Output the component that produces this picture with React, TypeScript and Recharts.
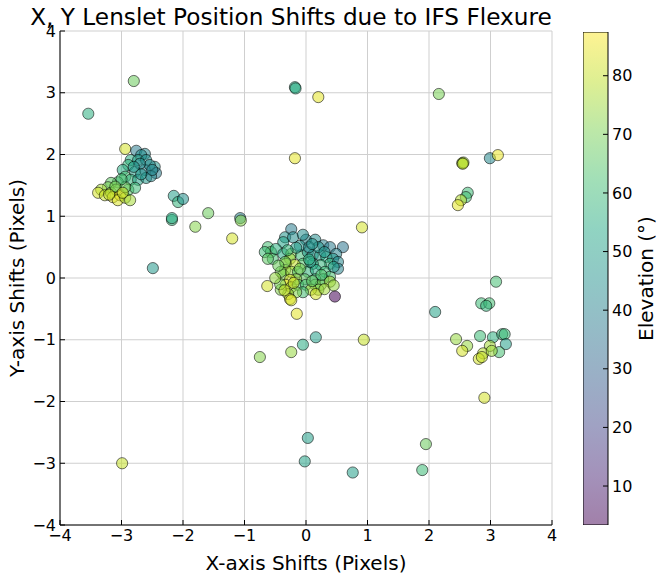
import * as React from "react"
import {
  ScatterChart, Scatter, XAxis, YAxis, CartesianGrid,
  BarChart, Bar,
} from "recharts"

// [x shift, y shift, elevation]
const upperLeftCluster: number[][] = [
  [-2.94, 2.09, 82], [-2.76, 2.06, 38], [-2.62, 2.01, 42], [-2.68, 1.99, 44],
  [-2.85, 1.91, 55], [-2.73, 1.91, 50], [-2.6, 1.91, 45], [-2.46, 1.8, 46],
  [-2.44, 1.7, 38], [-2.62, 1.75, 40], [-2.89, 1.83, 58], [-2.98, 1.75, 55],
  [-2.78, 1.72, 50], [-2.94, 1.64, 62], [-2.85, 1.59, 58], [-2.73, 1.59, 52],
  [-2.6, 1.62, 48], [-3.06, 1.55, 64], [-3.17, 1.54, 66], [-3.22, 1.47, 70],
  [-3.33, 1.43, 76], [-3.38, 1.38, 82], [-3.27, 1.34, 80], [-3.17, 1.38, 74],
  [-3.09, 1.43, 72], [-3.14, 1.31, 84], [-3.02, 1.34, 86], [-3.06, 1.26, 83],
  [-2.94, 1.3, 78], [-2.86, 1.26, 76], [-2.89, 1.43, 65], [-2.78, 1.46, 60],
  [-2.94, 1.47, 68], [-2.54, 1.83, 44], [-2.52, 1.65, 42], [-2.7, 1.85, 44],
  [-2.8, 1.8, 48], [-3.0, 1.6, 62], [-3.1, 1.48, 70], [-2.68, 1.68, 46],
  [-3.2, 1.35, 80], [-2.98, 1.38, 80], [-2.5, 1.75, 42],
]

const centralCluster: number[][] = [
  [-0.24, 0.79, 38], [-0.34, 0.66, 46], [-0.21, 0.66, 44], [-0.37, 0.58, 52],
  [0.0, 0.62, 42], [0.15, 0.62, 44], [0.28, 0.53, 40], [0.39, 0.5, 38],
  [0.6, 0.5, 36], [0.49, 0.39, 40], [-0.62, 0.5, 62], [-0.57, 0.42, 66],
  [-0.67, 0.42, 60], [-0.54, 0.31, 62], [-0.49, 0.47, 56], [-0.62, 0.31, 66],
  [-0.37, 0.39, 54], [-0.24, 0.39, 72], [-0.26, 0.31, 74], [-0.08, 0.37, 60],
  [0.03, 0.42, 48], [0.11, 0.37, 48], [0.23, 0.37, 50], [0.33, 0.34, 54],
  [0.44, 0.31, 48], [0.39, 0.23, 58], [0.52, 0.26, 42], [0.52, 0.15, 40],
  [0.24, 0.21, 58], [0.11, 0.23, 54], [-0.05, 0.23, 64], [-0.18, 0.21, 80],
  [-0.33, 0.23, 78], [-0.34, 0.13, 76], [-0.37, 0.05, 72], [-0.41, 0.1, 70],
  [-0.24, 0.1, 74], [-0.13, 0.1, 64], [0.03, 0.1, 58], [0.16, 0.13, 54],
  [0.31, 0.1, 60], [0.39, 0.02, 62], [0.28, -0.02, 58], [0.15, -0.02, 60],
  [-0.02, -0.02, 66], [-0.16, -0.02, 74], [-0.26, -0.03, 82], [-0.33, -0.11, 84],
  [-0.24, -0.15, 76], [-0.13, -0.11, 64], [0.0, -0.11, 62], [0.15, -0.11, 68],
  [0.24, -0.11, 70], [0.2, -0.19, 72], [0.08, -0.19, 76], [-0.05, -0.23, 62],
  [-0.16, -0.23, 72], [-0.29, -0.26, 76], [-0.26, -0.34, 84], [-0.24, -0.36, 82],
  [-0.41, -0.19, 72], [0.39, -0.06, 76], [0.16, -0.26, 82], [-0.42, -0.1, 70],
  [-0.1, 0.52, 46], [0.07, 0.26, 50], [-0.16, 0.49, 50], [0.2, 0.5, 46],
  [-0.34, 0.26, 68], [-0.45, 0.2, 68], [-0.3, 0.45, 58], [0.05, 0.5, 44],
  [0.3, 0.42, 46], [0.45, 0.18, 50], [-0.1, 0.15, 70], [0.05, 0.3, 56],
  [0.25, 0.05, 64], [-0.2, -0.08, 80], [0.1, -0.05, 66], [-0.35, -0.2, 80],
  [0.3, -0.18, 76], [-0.05, 0.7, 44], [0.1, 0.55, 46], [-0.5, 0.0, 74],
  [0.45, -0.12, 74],
]

const upperRightCluster: number[][] = [
  [2.54, 1.86, 78], [2.56, 1.87, 76], [2.55, 1.85, 79], [2.63, 1.38, 60],
  [2.6, 1.31, 62], [2.52, 1.26, 78], [2.47, 1.18, 84], [2.99, 1.94, 42],
  [3.12, 1.99, 85],
]

const lowerRightCluster: number[][] = [
  [3.09, -0.06, 62], [2.85, -0.41, 60], [2.98, -0.41, 62], [2.93, -0.45, 58],
  [2.44, -0.99, 74], [2.62, -1.1, 74], [2.54, -1.18, 82], [2.83, -0.94, 60],
  [3.04, -0.96, 56], [3.19, -0.91, 58], [3.23, -0.91, 60], [3.25, -1.07, 50],
  [2.99, -1.1, 76], [3.14, -1.2, 62], [2.88, -1.22, 78], [2.81, -1.31, 82],
  [2.86, -1.28, 80], [3.02, -1.18, 75], [2.9, -1.94, 82], [2.1, -0.55, 52],
]

const scattered: number[][] = [
  [-3.54, 2.66, 56], [-2.8, 3.19, 68], [-0.18, 3.09, 55], [-0.17, 3.07, 55],
  [0.2, 2.93, 84], [-0.18, 1.94, 84], [2.16, 2.98, 70], [-2.49, 0.16, 48],
  [-2.15, 1.33, 50], [-2.08, 1.23, 58], [-2.0, 1.28, 45], [-2.18, 0.94, 58],
  [-2.18, 0.97, 55], [-1.8, 0.83, 72], [-1.59, 1.05, 68], [-1.2, 0.64, 82],
  [-1.07, 0.97, 40], [-1.06, 0.93, 72], [-0.75, -1.28, 72], [-0.24, -1.2, 74],
  [-0.05, -1.08, 55], [0.16, -0.96, 50], [-0.63, -0.13, 82], [-0.15, -0.58, 84],
  [0.47, -0.3, 3.5], [0.91, 0.82, 82], [0.94, -1.0, 80], [0.03, -2.59, 50],
  [-0.02, -2.97, 52], [0.76, -3.15, 50], [1.95, -2.69, 68], [1.89, -3.11, 60],
  [-2.99, -3.0, 80],
]

const axisTicks = [-4, -3, -2, -1, 0, 1, 2, 3, 4]
const elevationTicks = [10, 20, 30, 40, 50, 60, 70, 80]
const ELEV_MIN = 3.35
const ELEV_MAX = 87.46
const colorbarData = [{ name: "elevation", range: [ELEV_MIN, ELEV_MAX] }]

const VIRIDIS = ["#440154", "#482475", "#414487", "#355f8d", "#2a788e", "#21918c",
  "#22a884", "#44bf70", "#7ad151", "#bddf26", "#fde725"]

function hexToRgb(h: string) {
  return [1, 3, 5].map((i) => parseInt(h.slice(i, i + 2), 16))
}

function viridis(t: number) {
  const c = Math.max(0, Math.min(1, t)) * (VIRIDIS.length - 1)
  const i = Math.min(Math.floor(c), VIRIDIS.length - 2)
  const f = c - i
  const a = hexToRgb(VIRIDIS[i])
  const b = hexToRgb(VIRIDIS[i + 1])
  const rgb = a.map((v, k) => Math.round(v + (b[k] - v) * f))
  return `rgb(${rgb.join(",")})`
}

const points = [...upperLeftCluster, ...centralCluster, ...upperRightCluster, ...lowerRightCluster, ...scattered]
  .map(([x, y, e]) => ({ x, y, e, fill: viridis((e - ELEV_MIN) / (ELEV_MAX - ELEV_MIN)) }))

const fmt = (v: number) => (v < 0 ? `\u2212${Math.abs(v)}` : `${v}`)

const Dot = (props: any) => {
  const { cx, cy, payload } = props
  return (
    <circle cx={cx} cy={cy} r={5.6} fill={payload?.fill ?? props.fill} fillOpacity={0.55}
      stroke="#000" strokeOpacity={0.55} strokeWidth={1} />
  )
}

const tickStyle = { fill: "#000", fontSize: 16 }

export default function App() {
  return (
    <div style={{ position: "absolute", left: 0, top: 0, width: 664, height: 579, background: "#fff", fontFamily: "DejaVu Sans" }}>
      <ScatterChart width={664} height={579} margin={{ top: 31, right: 112, bottom: 0, left: 0 }}>
        <CartesianGrid stroke="#cfcfcf" strokeWidth={1} />
        <XAxis type="number" dataKey="x" domain={[-4, 4]} ticks={axisTicks} allowDataOverflow
          height={54} tickFormatter={fmt} tick={tickStyle} tickSize={-5} tickMargin={10}
          axisLine={{ stroke: "#000" }} tickLine={{ stroke: "#000" }}
          label={{ value: "X-axis Shifts (Pixels)", position: "insideBottom", offset: 9, fill: "#000", fontSize: 20 }} />
        <XAxis xAxisId="top" orientation="top" type="number" domain={[-4, 4]} ticks={axisTicks}
          height={0} tick={false} tickSize={-5} axisLine={{ stroke: "#000" }} tickLine={{ stroke: "#000" }} />
        <YAxis type="number" dataKey="y" domain={[-4, 4]} ticks={axisTicks} allowDataOverflow
          width={60} tickFormatter={fmt} tick={tickStyle} tickSize={-5} tickMargin={9}
          axisLine={{ stroke: "#000" }} tickLine={{ stroke: "#000" }}
          label={{ value: "Y-axis Shifts (Pixels)", angle: -90, position: "insideLeft", offset: 17, fill: "#000", fontSize: 20, style: { textAnchor: "middle" } }} />
        <YAxis yAxisId="right" orientation="right" type="number" domain={[-4, 4]} ticks={axisTicks}
          width={0} tick={false} tickSize={-5} axisLine={{ stroke: "#000" }} tickLine={{ stroke: "#000" }} />
        <Scatter data={points} shape={Dot} isAnimationActive={false} />
      </ScatterChart>

      <div style={{ position: "absolute", left: 583, top: 0 }}>
        <BarChart width={81} height={579} data={colorbarData} barCategoryGap={0}
          margin={{ top: 32, right: 0, bottom: 54, left: 0 }}>
          <defs>
            <linearGradient id="viridisGrad" x1="0" y1="1" x2="0" y2="0">
              {VIRIDIS.map((c, i) => (
                <stop key={c} offset={i / (VIRIDIS.length - 1)} stopColor={c} stopOpacity={0.5} />
              ))}
            </linearGradient>
          </defs>
          <XAxis dataKey="name" hide />
          <YAxis orientation="right" type="number" domain={[ELEV_MIN, ELEV_MAX]} ticks={elevationTicks}
            allowDataOverflow width={56} tick={tickStyle} tickSize={-5} tickMargin={9} axisLine={false}
            tickLine={{ stroke: "#000" }}
            label={{ value: "Elevation (\u00b0)", angle: -90, position: "insideRight", offset: 18, fill: "#000", fontSize: 20, style: { textAnchor: "middle" } }} />
          <Bar dataKey="range" fill="url(#viridisGrad)" stroke="#000" strokeWidth={1} isAnimationActive={false} />
        </BarChart>
      </div>

      <svg width={664} height={579} style={{ position: "absolute", left: 0, top: 0, pointerEvents: "none" }}>
        <text x={291} y={25} textAnchor="middle" fontSize={23.2} fill="#000" fontFamily="DejaVu Sans">
          X, Y Lenslet Position Shifts due to IFS Flexure
        </text>
      </svg>
    </div>
  )
}
